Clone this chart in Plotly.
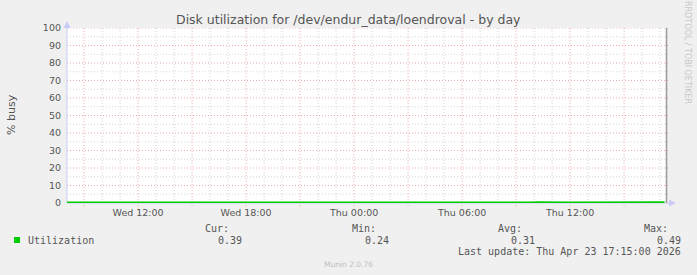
import plotly.graph_objects as go
import pandas as pd
import numpy as np

# ---- data ----
util_values = [0.30, 0.28, 0.31, 0.27, 0.33, 0.29, 0.26, 0.30, 0.32, 0.28, 0.35, 0.29,
               0.27, 0.31, 0.30, 0.26, 0.28, 0.33, 0.30, 0.29, 0.27, 0.32, 0.31, 0.28,
               0.25, 0.29, 0.30, 0.27, 0.24, 0.28, 0.31, 0.29, 0.33, 0.30, 0.27, 0.26,
               0.30, 0.32, 0.29, 0.28, 0.31, 0.34, 0.30, 0.27, 0.29, 0.33, 0.31, 0.28,
               0.30, 0.35, 0.32, 0.29, 0.31, 0.49, 0.33, 0.30, 0.28, 0.32, 0.34, 0.30,
               0.29, 0.31, 0.36, 0.33, 0.30, 0.32, 0.34, 0.39]
series_name = "Utilization"
stats_labels = ["Cur:", "Min:", "Avg:", "Max:"]
stats_values = ["0.39", "0.24", "0.31", "0.49"]
last_update = "Last update: Thu Apr 23 17:15:00 2026"
title = "Disk utilization for /dev/endur_data/loendroval - by day"
y_title = "% busy"
x_start = pd.Timestamp("2026-04-22 08:03")
x_end = pd.Timestamp("2026-04-23 17:23")
times = pd.date_range(end="2026-04-23 17:15", periods=len(util_values), freq="30min")

W, H = 697, 275
L, R, T, B = 67, 667, 28, 203
pw, ph = R - L, B - T

def px(x):
    return (x - L) / pw

def py(y):
    return (B - y) / ph

fig = go.Figure()
fig.add_trace(go.Scatter(x=times, y=util_values, mode="lines",
                         line=dict(color="#00CC00", width=2), showlegend=False,
                         hoverinfo="skip", cliponaxis=False))

shapes = []
minor_col = "#d6d6d6"
major_col = "#eaaaaa"
dash = "1px,2px"
# horizontal grid
for v in range(0, 101, 5):
    major = v % 10 == 0
    if v == 0:
        continue
    shapes.append(dict(type="line", xref="paper", yref="y", x0=0, x1=1.003, y0=v, y1=v,
                       line=dict(color=major_col if major else minor_col, width=1, dash=dash),
                       layer="below"))
# vertical grid
t = x_start.ceil("h")
while t <= x_end:
    major = t.hour % 3 == 0
    shapes.append(dict(type="line", xref="x", yref="paper", x0=t, x1=t, y0=-0.018 if major else 0, y1=1,
                       line=dict(color=major_col if major else minor_col, width=1, dash=dash),
                       layer="below"))
    t += pd.Timedelta(hours=1)

axis_col = "#c8ccf4"
# left axis line with arrow
shapes.append(dict(type="line", xref="paper", yref="paper", x0=0, x1=0, y0=0, y1=1.0,
                   line=dict(color=axis_col, width=1), layer="below"))
shapes.append(dict(type="path", xref="paper", yref="paper",
                   path=f"M {px(63.5)} {py(28)} L {px(70.5)} {py(28)} L {px(67)} {py(21)} Z",
                   fillcolor=axis_col, line=dict(width=0)))
# bottom axis arrow
shapes.append(dict(type="line", xref="paper", yref="paper", x0=0, x1=px(669), y0=0, y1=0,
                   line=dict(color=axis_col, width=1), layer="below"))
shapes.append(dict(type="path", xref="paper", yref="paper",
                   path=f"M {px(669)} {py(199.5)} L {px(669)} {py(206.5)} L {px(676)} {py(203)} Z",
                   fillcolor=axis_col, line=dict(width=0)))
# right frame line
shapes.append(dict(type="line", xref="paper", yref="paper", x0=px(666.5), x1=px(666.5), y0=0, y1=1,
                   line=dict(color="#999999", width=1.5)))
# legend swatch
shapes.append(dict(type="rect", xref="paper", yref="paper", x0=px(14), x1=px(20), y0=py(243), y1=py(237),
                   fillcolor="#00CC00", line=dict(width=0)))

mono = "DejaVu Sans Mono"
txt = "#555555"
ann = []
def add_text(text, x, y, anchor, size=10, color=txt, family=mono, angle=0):
    ann.append(dict(text=text, x=px(x), y=py(y), xref="paper", yref="paper", showarrow=False,
                    xanchor=anchor, yanchor="middle", textangle=angle,
                    font=dict(family=family, size=size, color=color)))

add_text(title, 348, 19, "center", size=12.5, family="DejaVu Sans", color="#555555")
add_text(y_title, 11, 115, "center", size=11, family="DejaVu Sans", color="#555555", angle=-90)
add_text("RRDTOOL / TOBI OETIKER", 688, 52, "center", size=8, family="DejaVu Sans", color="#c8c8c8", angle=90)
add_text(series_name, 26, 240, "left")
ends_lbl = [231, 378, 524, 670]
ends_val = [244, 391, 537, 683]
for lab, val, xl, xv in zip(stats_labels, stats_values, ends_lbl, ends_val):
    add_text(lab, xl, 228, "right")
    add_text(val, xv, 240, "right")
add_text(last_update, 683, 251, "right")
add_text("Munin 2.0.76", 348, 264, "center", size=7.5, family="DejaVu Sans", color="#c0c0c0")

fig.update_layout(
    width=W, height=H,
    margin=dict(l=L, r=W - R, t=T, b=H - B, pad=0),
    paper_bgcolor="#F0F0F0", plot_bgcolor="#FFFFFF",
    shapes=shapes, annotations=ann,
    xaxis=dict(type="date", range=[x_start, x_end], showgrid=False, zeroline=False, showline=False,
               tick0="2026-04-22 00:00", dtick=6 * 3600000, tickformat="%a %H:%M",
               ticks="", ticklabelstandoff=2,
               tickfont=dict(family="DejaVu Sans", size=9.5, color="#555555")),
    yaxis=dict(range=[0, 100], showgrid=False, zeroline=False, showline=False,
               tickvals=list(range(0, 101, 10)), ticks="", ticklabelstandoff=5,
               tickfont=dict(family="DejaVu Sans", size=9.5, color="#555555")),
)
fig.write_html("out.html")
